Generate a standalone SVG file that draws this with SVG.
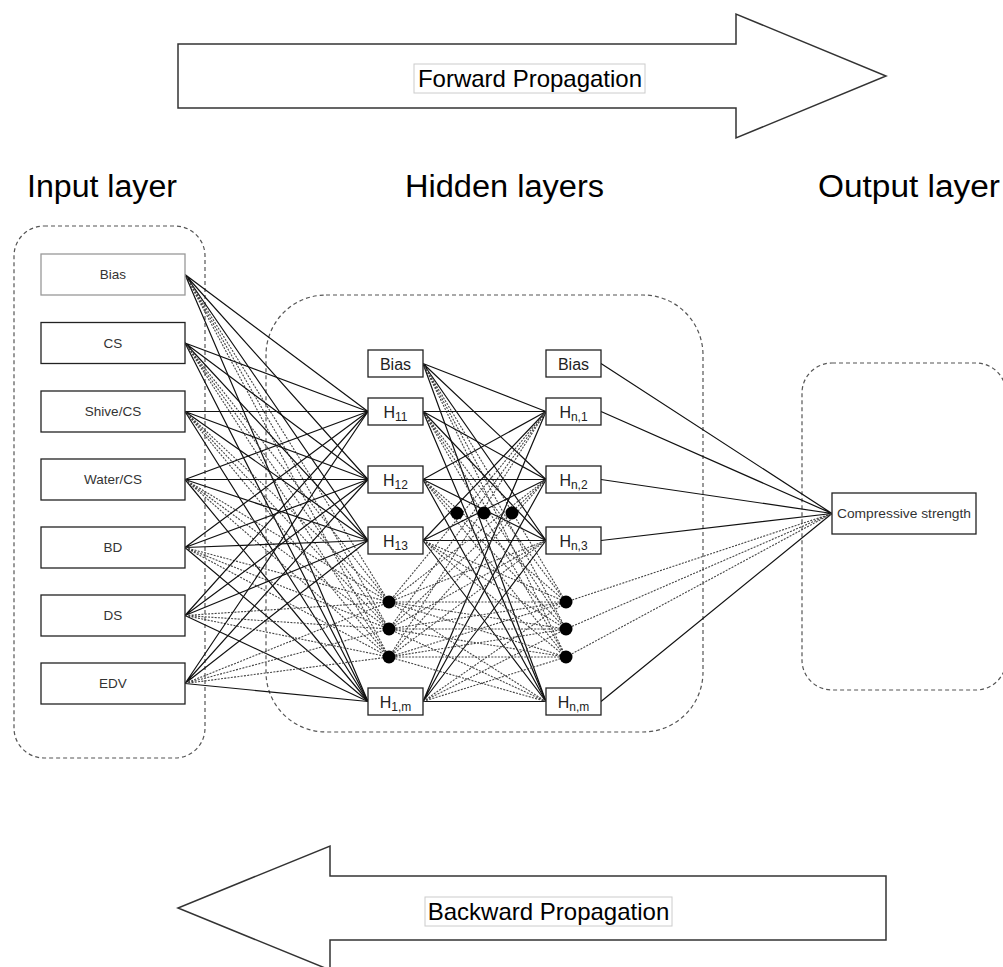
<svg xmlns="http://www.w3.org/2000/svg" width="1003" height="967" viewBox="0 0 1003 967">
<style>
text{font-family:"Liberation Sans",Arial,Helvetica,sans-serif;}
.title{font-size:31px;fill:#000;}
.arrow{fill:#fff;stroke:#333;stroke-width:1.5;}
.lblbox{fill:#fff;stroke:#ccc;stroke-width:1;}
.lbl{font-size:24px;fill:#000;text-anchor:middle;}
.group{fill:none;stroke:#555;stroke-width:1.2;stroke-dasharray:4 3;}
.node{fill:#fff;stroke:#222;stroke-width:1.3;}
.ntext{font-size:13.5px;fill:#333;text-anchor:middle;}
.htext{font-size:16px;fill:#222;text-anchor:middle;}
.sub{font-size:12px;}
.solid{fill:none;stroke:#111;stroke-width:1.2;}
.dash{fill:none;stroke:#444;stroke-width:1.1;stroke-dasharray:2 1.3;}
.dot{fill:#000;}
</style>

<g id="forward-arrow">
<polygon class="arrow" points="178,44 736,44 736,14 886,76 736,138 736,108 178,108"/>
<rect class="lblbox" x="414" y="64" width="231" height="29"/>
<text class="lbl" x="530" y="87">Forward Propagation</text>
</g>

<g id="backward-arrow">
<polygon class="arrow" points="886,876 330,876 330,846 178,908 330,970 330,940 886,940"/>
<rect class="lblbox" x="425" y="897" width="247" height="29"/>
<text class="lbl" x="548.5" y="920">Backward Propagation</text>
</g>

<g id="titles">
<text class="title" x="27" y="197" textLength="150" lengthAdjust="spacingAndGlyphs">Input layer</text>
<text class="title" x="405" y="197" textLength="199" lengthAdjust="spacingAndGlyphs">Hidden layers</text>
<text class="title" x="818" y="197" textLength="182" lengthAdjust="spacingAndGlyphs">Output layer</text>
</g>

<g id="layer-groups">
<rect id="input-group" class="group" x="14" y="226" width="191" height="532" rx="30"/>
<rect id="hidden-group" class="group" x="266" y="295" width="437" height="437" rx="60"/>
<rect id="output-group" class="group" x="802" y="363" width="204" height="327" rx="30"/>
</g>

<g id="connectors">
<path class="solid" d="M185 274.5L368 411.5M185 274.5L368 479.5M185 274.5L368 540.5M185 274.5L368 701.5"/>
<path class="dash" d="M185 274.5L389 602M185 274.5L389 629M185 274.5L389 657"/>
<path class="solid" d="M185 343L368 411.5M185 343L368 479.5M185 343L368 540.5M185 343L368 701.5"/>
<path class="dash" d="M185 343L389 602M185 343L389 629M185 343L389 657"/>
<path class="solid" d="M185 411.5L368 411.5M185 411.5L368 479.5M185 411.5L368 540.5M185 411.5L368 701.5"/>
<path class="dash" d="M185 411.5L389 602M185 411.5L389 629M185 411.5L389 657"/>
<path class="solid" d="M185 479.5L368 411.5M185 479.5L368 479.5M185 479.5L368 540.5M185 479.5L368 701.5"/>
<path class="dash" d="M185 479.5L389 602M185 479.5L389 629M185 479.5L389 657"/>
<path class="solid" d="M185 547.5L368 411.5M185 547.5L368 479.5M185 547.5L368 540.5M185 547.5L368 701.5"/>
<path class="dash" d="M185 547.5L389 602M185 547.5L389 629M185 547.5L389 657"/>
<path class="solid" d="M185 615.5L368 411.5M185 615.5L368 479.5M185 615.5L368 540.5M185 615.5L368 701.5"/>
<path class="dash" d="M185 615.5L389 602M185 615.5L389 629M185 615.5L389 657"/>
<path class="solid" d="M185 683.5L368 411.5M185 683.5L368 479.5M185 683.5L368 540.5M185 683.5L368 701.5"/>
<path class="dash" d="M185 683.5L389 602M185 683.5L389 629M185 683.5L389 657"/>
<path class="solid" d="M423 363.5L546 411.5M423 363.5L546 479.5M423 363.5L546 540.5M423 363.5L546 701.5"/>
<path class="dash" d="M423 363.5L566 602M423 363.5L566 629M423 363.5L566 657"/>
<path class="solid" d="M423 411.5L546 411.5M423 411.5L546 479.5M423 411.5L546 540.5M423 411.5L546 701.5"/>
<path class="dash" d="M423 411.5L566 602M423 411.5L566 629M423 411.5L566 657"/>
<path class="solid" d="M423 479.5L546 411.5M423 479.5L546 479.5M423 479.5L546 540.5M423 479.5L546 701.5"/>
<path class="dash" d="M423 479.5L566 602M423 479.5L566 629M423 479.5L566 657"/>
<path class="solid" d="M423 540.5L546 411.5M423 540.5L546 479.5M423 540.5L546 540.5M423 540.5L546 701.5"/>
<path class="dash" d="M423 540.5L566 602M423 540.5L566 629M423 540.5L566 657"/>
<path class="solid" d="M423 701.5L546 411.5M423 701.5L546 479.5M423 701.5L546 540.5M423 701.5L546 701.5"/>
<path class="dash" d="M423 701.5L566 602M423 701.5L566 629M423 701.5L566 657"/>
<path class="dash" d="M389 602L546 411.5M389 602L546 479.5M389 602L546 540.5M389 602L546 701.5M389 602L566 602M389 602L566 629M389 602L566 657"/>
<path class="dash" d="M389 629L546 411.5M389 629L546 479.5M389 629L546 540.5M389 629L546 701.5M389 629L566 602M389 629L566 629M389 629L566 657"/>
<path class="dash" d="M389 657L546 411.5M389 657L546 479.5M389 657L546 540.5M389 657L546 701.5M389 657L566 602M389 657L566 629M389 657L566 657"/>
<path class="solid" d="M601 363.5L832 513.5M601 411.5L832 513.5M601 479.5L832 513.5M601 540.5L832 513.5M601 701.5L832 513.5"/>
<path class="dash" d="M566 602L832 513.5M566 629L832 513.5M566 657L832 513.5"/>
</g>

<g id="input-nodes">
<g id="in-bias"><rect class="node" x="41" y="254" width="144" height="41" style="stroke:#999"/><text class="ntext" x="113" y="279">Bias</text></g>
<g id="in-cs"><rect class="node" x="41" y="322.5" width="144" height="41"/><text class="ntext" x="113" y="347.5">CS</text></g>
<g id="in-shive"><rect class="node" x="41" y="391" width="144" height="41"/><text class="ntext" x="113" y="416">Shive/CS</text></g>
<g id="in-water"><rect class="node" x="41" y="459" width="144" height="41"/><text class="ntext" x="113" y="484">Water/CS</text></g>
<g id="in-bd"><rect class="node" x="41" y="527" width="144" height="41"/><text class="ntext" x="113" y="552">BD</text></g>
<g id="in-ds"><rect class="node" x="41" y="595" width="144" height="41"/><text class="ntext" x="113" y="620">DS</text></g>
<g id="in-edv"><rect class="node" x="41" y="663" width="144" height="41"/><text class="ntext" x="113" y="688">EDV</text></g>
</g>

<g id="hidden-nodes-1">
<g id="h1-bias"><rect class="node" x="368" y="350" width="55" height="27"/><text class="htext" x="395.5" y="369.5">Bias</text></g>
<g id="h11"><rect class="node" x="368" y="398" width="55" height="27"/><text class="htext" x="395.5" y="417.5">H<tspan class="sub" dy="3.5">11</tspan></text></g>
<g id="h12"><rect class="node" x="368" y="466" width="55" height="27"/><text class="htext" x="395.5" y="485.5">H<tspan class="sub" dy="3.5">12</tspan></text></g>
<g id="h13"><rect class="node" x="368" y="527" width="55" height="27"/><text class="htext" x="395.5" y="546.5">H<tspan class="sub" dy="3.5">13</tspan></text></g>
<g id="h1m"><rect class="node" x="368" y="688" width="55" height="27"/><text class="htext" x="395.5" y="707.5">H<tspan class="sub" dy="3.5">1,m</tspan></text></g>
<g id="h1-dots"><circle class="dot" cx="389" cy="602" r="6.5"/><circle class="dot" cx="389" cy="629" r="6.5"/><circle class="dot" cx="389" cy="657" r="6.5"/></g>
</g>

<g id="middle-dots"><circle class="dot" cx="457" cy="513" r="6.5"/><circle class="dot" cx="484" cy="513" r="6.5"/><circle class="dot" cx="512" cy="513" r="6.5"/></g>

<g id="hidden-nodes-n">
<g id="hn-bias"><rect class="node" x="546" y="350" width="55" height="27"/><text class="htext" x="573.5" y="369.5">Bias</text></g>
<g id="hn1"><rect class="node" x="546" y="398" width="55" height="27"/><text class="htext" x="573.5" y="417.5">H<tspan class="sub" dy="3.5">n,1</tspan></text></g>
<g id="hn2"><rect class="node" x="546" y="466" width="55" height="27"/><text class="htext" x="573.5" y="485.5">H<tspan class="sub" dy="3.5">n,2</tspan></text></g>
<g id="hn3"><rect class="node" x="546" y="527" width="55" height="27"/><text class="htext" x="573.5" y="546.5">H<tspan class="sub" dy="3.5">n,3</tspan></text></g>
<g id="hnm"><rect class="node" x="546" y="688" width="55" height="27"/><text class="htext" x="573.5" y="707.5">H<tspan class="sub" dy="3.5">n,m</tspan></text></g>
<g id="hn-dots"><circle class="dot" cx="566" cy="602" r="6.5"/><circle class="dot" cx="566" cy="629" r="6.5"/><circle class="dot" cx="566" cy="657" r="6.5"/></g>
</g>

<g id="output-node">
<rect class="node" x="832" y="493" width="144" height="41"/>
<text class="ntext" x="904" y="518" textLength="134" lengthAdjust="spacingAndGlyphs">Compressive strength</text>
</g>
</svg>
